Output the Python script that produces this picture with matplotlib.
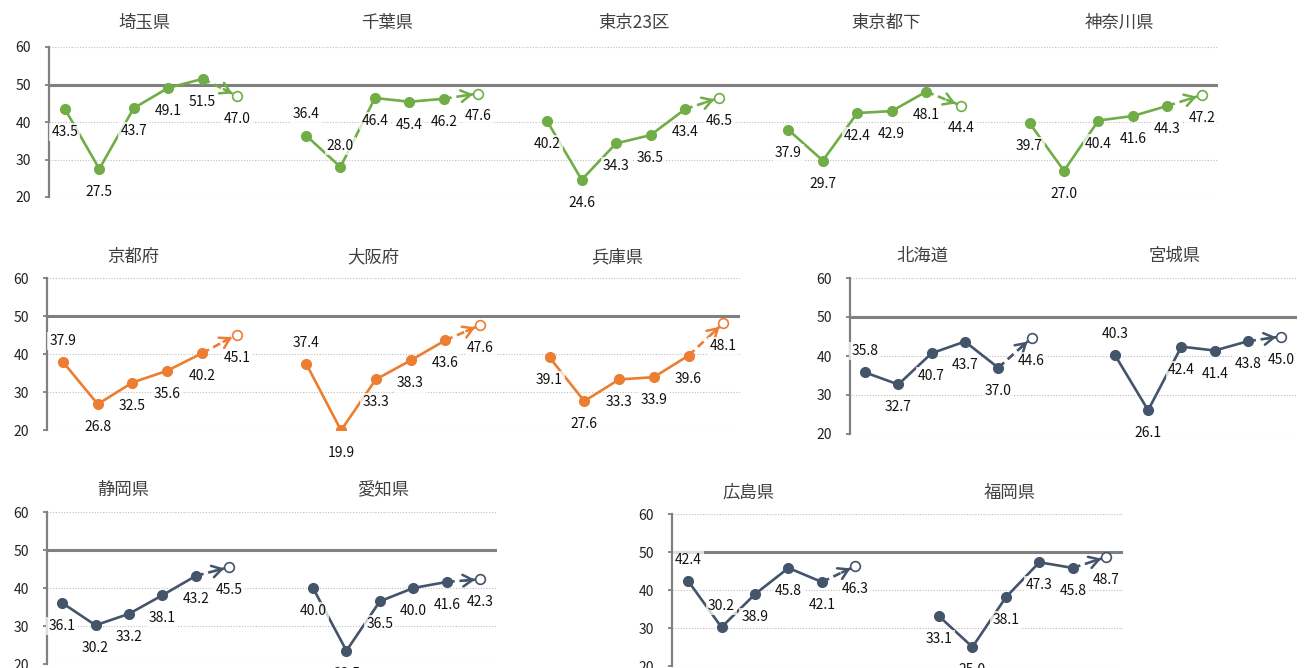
import matplotlib.pyplot as plt
import numpy as np

plt.rcParams['font.family'] = ['Noto Sans CJK JP', 'DejaVu Sans']

W, H = 1307, 668
GREEN = '#70AD47'
ORANGE = '#ED7D31'
NAVY = '#44546A'
GRAY = '#808080'

# five actual values + one forecast (last, open circle)
saitama = [43.5, 27.5, 43.7, 49.1, 51.5, 47.0]
chiba = [36.4, 28.0, 46.4, 45.4, 46.2, 47.6]
tokyo23 = [40.2, 24.6, 34.3, 36.5, 43.4, 46.5]
tokyo_other = [37.9, 29.7, 42.4, 42.9, 48.1, 44.4]
kanagawa = [39.7, 27.0, 40.4, 41.6, 44.3, 47.2]
kyoto = [37.9, 26.8, 32.5, 35.6, 40.2, 45.1]
osaka = [37.4, 19.9, 33.3, 38.3, 43.6, 47.6]
hyogo = [39.1, 27.6, 33.3, 33.9, 39.6, 48.1]
hokkaido = [35.8, 32.7, 40.7, 43.7, 37.0, 44.6]
miyagi = [40.3, 26.1, 42.4, 41.4, 43.8, 45.0]
shizuoka = [36.1, 30.2, 33.2, 38.1, 43.2, 45.5]
aichi = [40.0, 23.5, 36.5, 40.0, 41.6, 42.3]
hiroshima = [42.4, 30.2, 38.9, 45.8, 42.1, 46.3]
fukuoka = [33.1, 25.0, 38.1, 47.3, 45.8, 48.7]

yticks = [20, 30, 40, 50, 60]

# layout: (rect in px: left, top, right, bottom), xlim, panel step, colour, title dy,
# panels: (title, values, title dx px, indices with label above)
groups = [
    ((49, 47, 1218, 197), (-0.46, 33.47), 7, GREEN, 24,
     [('埼玉県', saitama, -6, []), ('千葉県', chiba, -5, [0, 1]),
      ('東京23区', tokyo23, 1, []), ('東京都下', tokyo_other, 12, []),
      ('神奈川県', kanagawa, 4, [])]),
    ((47, 278, 740, 430), (-0.46, 19.48), 7, ORANGE, 21,
     [('京都府', kyoto, -17, [0]), ('大阪府', osaka, -20, [0]),
      ('兵庫県', hyogo, -19, [])]),
    ((850, 278, 1297, 434), (-0.45, 12.97), 7.5, NAVY, 22,
     [('北海道', hokkaido, -26, [0]), ('宮城県', miyagi, -23, [0])]),
    ((47, 512, 497, 664), (-0.45, 13.0), 7.5, NAVY, 22,
     [('静岡県', shizuoka, -22, []), ('愛知県', aichi, -14, [])]),
    ((672, 514, 1123, 666), (-0.48, 13.0), 7.5, NAVY, 21,
     [('広島県', hiroshima, -23, [0, 1]), ('福岡県', fukuoka, -13, [])]),
]

fig = plt.figure(figsize=(W / 100, H / 100), dpi=100)

for rect, xlim, step, color, title_dy, panels in groups:
    l, t, r, b = rect
    ax = fig.add_axes([l / W, 1 - b / H, (r - l) / W, (b - t) / H])
    ax.set_xlim(*xlim)
    ax.set_ylim(20, 60)
    ax.set_yticks(yticks)
    ax.set_xticks([])
    for s in ['top', 'right', 'bottom']:
        ax.spines[s].set_visible(False)
    ax.spines['left'].set_color(GRAY)
    ax.spines['left'].set_linewidth(1.6)
    ax.tick_params(axis='y', length=3, width=1.3, color=GRAY, pad=10,
                   labelsize=10, labelcolor='#222222')
    ax.yaxis.grid(True, linestyle=(0, (1, 1.5)), color='#BFBFBF', lw=0.8)
    ax.set_axisbelow(True)
    ax.axhline(50, color=GRAY, lw=2.2, zorder=2)

    for k, (name, vals, tdx, above) in enumerate(panels):
        x = step * k + np.arange(len(vals))
        ax.plot(x[:5], vals[:5], '-o', color=color, lw=1.9, ms=7, zorder=4)
        ax.plot(x[4:6], vals[4:6], color=color, lw=1.9, dashes=(3, 1.8), zorder=3)
        ax.plot(x[5], vals[5], 'o', mfc='white', mec=color, mew=1.2, ms=7, zorder=5)

        # open arrow head just before the forecast circle
        p4 = ax.transData.transform((x[4], vals[4]))
        p5 = ax.transData.transform((x[5], vals[5]))
        u = (p5 - p4) / np.hypot(*(p5 - p4))
        ax.annotate('', xy=(x[5], vals[5]), xytext=tuple(-u * 15),
                    textcoords='offset pixels',
                    arrowprops=dict(arrowstyle='->,head_length=0.5,head_width=0.3',
                                    mutation_scale=14, color=color, lw=1.8,
                                    shrinkA=0, shrinkB=3.8), zorder=4)

        for i, v in enumerate(vals):
            dy = 21 if i in above else -23
            ax.annotate(f'{v:.1f}', (x[i], v), xytext=(0, dy),
                        textcoords='offset pixels', ha='center', va='center',
                        fontsize=10, color='#111111', zorder=6,
                        bbox=dict(boxstyle='square,pad=0.15', fc='white',
                                  ec='none', alpha=0.75))

        ax.annotate(name, (step * k + 2.5, 60), xytext=(tdx, title_dy),
                    textcoords='offset pixels', ha='center', va='center',
                    fontsize=12.5, color='#404040', annotation_clip=False)

fig.savefig('out.png', dpi=100)
